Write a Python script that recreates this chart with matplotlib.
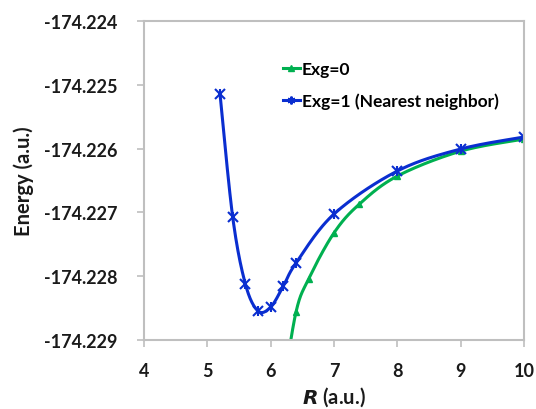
import numpy as np
import matplotlib.pyplot as plt

# potential energy curves, R in a.u., energy in a.u.
r_exg0 = [6.2, 6.4, 6.6, 7.0, 7.4, 8.0, 9.0, 10.0]
e_exg0 = [-174.22975, -174.22856, -174.22804, -174.22732, -174.22687,
          -174.22643, -174.22604, -174.22585]

r_exg1 = [5.2, 5.4, 5.6, 5.8, 6.0, 6.2, 6.4, 7.0, 8.0, 9.0, 10.0]
e_exg1 = [-174.225144, -174.227072, -174.228122, -174.228545, -174.228483,
          -174.228154, -174.227793, -174.227025, -174.226351, -174.226006,
          -174.225818]

x_ticks = [4, 5, 6, 7, 8, 9, 10]
y_ticks = [-174.229, -174.228, -174.227, -174.226, -174.225, -174.224]


def smooth(x, y, n=30):
    # Catmull-Rom style smoothing like spreadsheet "smoothed line"
    x = np.asarray(x, float)
    y = np.asarray(y, float)
    px = np.concatenate([[x[0]], x, [x[-1]]])
    py = np.concatenate([[y[0]], y, [y[-1]]])
    xs, ys = [], []
    t = np.linspace(0, 1, n)
    for i in range(1, len(px) - 2):
        p0, p1, p2, p3 = (px[i-1], py[i-1]), (px[i], py[i]), (px[i+1], py[i+1]), (px[i+2], py[i+2])
        for k in range(2):
            a, b, c, d = p0[k], p1[k], p2[k], p3[k]
            c1 = b + (c - a) / 6
            c2 = c - (d - b) / 6
            v = (1-t)**3*b + 3*(1-t)**2*t*c1 + 3*(1-t)*t**2*c2 + t**3*c
            (xs if k == 0 else ys).append(v)
    return np.concatenate(xs), np.concatenate(ys)


plt.rcParams['font.family'] = ['Lato', 'DejaVu Sans']
fig = plt.figure(figsize=(5.36, 4.10), dpi=100)
ax = fig.add_axes([0.2687, 0.1683, 0.709, 0.778])

green = '#00b050'
blue = '#0a2ed0'

sx, sy = smooth(r_exg0, e_exg0)
ax.plot(sx, sy, color=green, lw=2.2)
ax.plot(r_exg0, e_exg0, ls='none', marker='^', ms=5, color=green)
ax.plot([], [], color=green, lw=2.2, marker='^', ms=5, label='Exg=0')

sx, sy = smooth(r_exg1, e_exg1)
ax.plot(sx, sy, color=blue, lw=2.2)
ax.plot(r_exg1, e_exg1, ls='none', marker='x', ms=7, mew=1.5, color=blue)
ax.plot(r_exg1, e_exg1, ls='none', marker='|', ms=7, mew=1.5, color=blue)
ax.plot([], [], color=blue, lw=2.2, marker=(6, 2, 0), ms=7, mew=1.5,
        label='Exg=1 (Nearest neighbor)')

ax.set_xlim(4, 10)
ax.set_ylim(-174.229, -174.224)
ax.set_xticks(x_ticks)
ax.set_yticks(y_ticks)
ax.set_yticklabels([f'{v:.3f}' for v in y_ticks])

for s in ax.spines.values():
    s.set_color('#bfbfbf')
    s.set_linewidth(1.5)
ax.tick_params(axis='both', color='#bfbfbf', width=1.2, length=5,
               labelsize=13, labelcolor='#1a1a1a')
ax.tick_params(axis='y', pad=14)
ax.tick_params(axis='x', pad=11)
for lab in ax.get_xticklabels() + ax.get_yticklabels():
    lab.set_fontweight('bold')

ax.set_ylabel('Energy (a.u.)', fontsize=14.5, fontweight='bold', labelpad=7,
              color='#1a1a1a')
ax.set_xlabel(r'$\mathbfit{R}$ (a.u.)', fontsize=14.5, fontweight='bold',
              labelpad=4, color='#1a1a1a')

leg = ax.legend(loc='upper left', bbox_to_anchor=(0.365, 0.875), frameon=False,
                prop={'size': 12.5, 'weight': 'bold'}, handlelength=1.0,
                handletextpad=0.1, labelspacing=0.9, markerscale=0.8,
                borderpad=0, borderaxespad=0)

fig.savefig('out.png', dpi=100)
